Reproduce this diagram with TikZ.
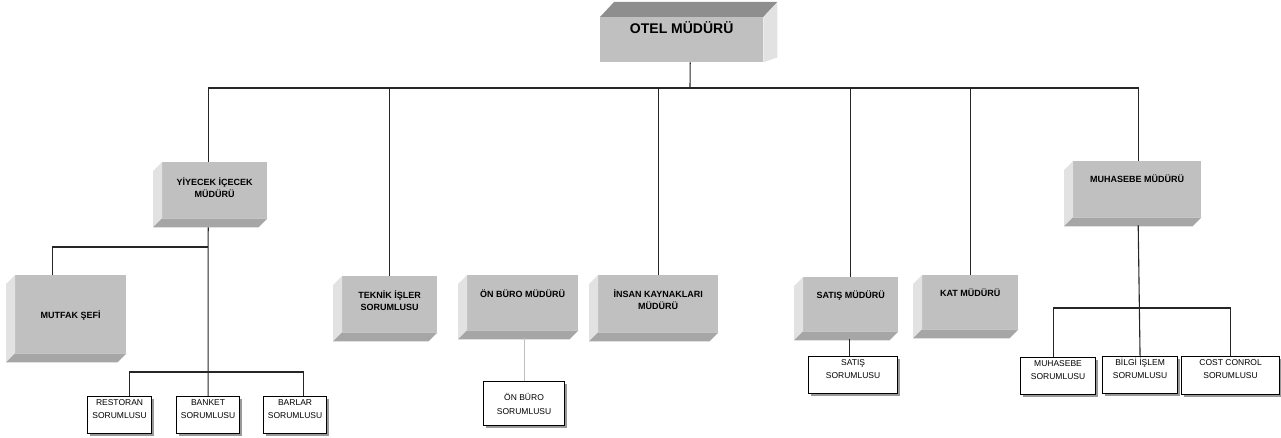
\documentclass[tikz,border=0pt]{standalone}
\usepackage{fontspec}
\setmainfont{Liberation Sans}
\usepackage{xcolor}
\usepackage{tikz}
\usetikzlibrary{calc,shadows}

\definecolor{onyuzgri}{HTML}{C0C0C0}
\definecolor{yangri}{HTML}{E2E2E2}
\definecolor{altgri}{HTML}{A6A6A6}
\definecolor{ustgri}{HTML}{8E8E8E}

% text block of a box: width, height, gap above the text, text
\newcommand{\kutuyazi}[4]{\parbox[c][#2pt][t]{#1pt}{\centering\vspace*{#3pt}#4\par}}

\begin{document}
\begin{tikzpicture}[
    x=1pt, y=-1pt,
    % front face of the grey 3d boxes
    onyuz/.style={fill=onyuzgri, inner sep=0pt, anchor=north west,
      font=\bfseries\fontsize{9}{12}\selectfont},
    % white boxes of the lowest level
    birim/.style={draw=black, line width=1.1pt, fill=white, inner sep=0pt,
      anchor=north west, font=\fontsize{8.5}{13.5}\selectfont,
      drop shadow={shadow xshift=2.5pt, shadow yshift=-2.5pt, fill=black!40, opacity=1}},
    hat/.style={draw=black!85, line width=1.1pt},
    solukhat/.style={draw=black!25, line width=0.9pt},
  ]
  \useasboundingbox (0,0) rectangle (1281,438);

  \node[onyuz, font=\bfseries\fontsize{14}{16}\selectfont] (otel) at (600,17) {\kutuyazi{163}{45}{4}{OTEL MÜDÜRÜ}};

  \node[onyuz] (yiyecek) at (162,162) {\kutuyazi{105}{56}{16}{YİYECEK İÇECEK\\MÜDÜRÜ}};
  \node[onyuz] (mutfak) at (15,275) {\kutuyazi{111}{78}{36}{MUTFAK ŞEFİ}};
  \node[onyuz] (teknik) at (342,276) {\kutuyazi{95}{56}{15}{TEKNİK İŞLER\\SORUMLUSU}};
  \node[onyuz] (onburo) at (467,275) {\kutuyazi{111}{55}{15}{ÖN BÜRO MÜDÜRÜ}};
  \node[onyuz] (insan) at (598,275) {\kutuyazi{120}{57}{15}{İNSAN KAYNAKLARI\\MÜDÜRÜ}};
  \node[onyuz] (satis) at (803,277) {\kutuyazi{95}{54}{14}{SATIŞ MÜDÜRÜ}};
  \node[onyuz] (kat) at (922,275) {\kutuyazi{96}{54}{14}{KAT MÜDÜRÜ}};
  \node[onyuz] (muhasebe) at (1073,161) {\kutuyazi{128}{56}{14}{MUHASEBE MÜDÜRÜ}};

  \node[birim] (restoran) at (87,396) {\kutuyazi{64}{37}{3}{RESTORAN\\SORUMLUSU}};
  \node[birim] (banket) at (176,396) {\kutuyazi{63}{37}{3}{BANKET\\SORUMLUSU}};
  \node[birim] (barlar) at (263,396) {\kutuyazi{63}{37}{3}{BARLAR\\SORUMLUSU}};
  \node[birim] (onburosor) at (483,381) {\kutuyazi{81}{44}{12}{ÖN BÜRO\\SORUMLUSU}};
  \node[birim] (satissor) at (808,356) {\kutuyazi{89}{37}{3}{SATIŞ\\SORUMLUSU}};
  \node[birim] (muhsor) at (1020,357) {\kutuyazi{75}{37}{3}{MUHASEBE\\SORUMLUSU}};
  \node[birim] (bilgi) at (1102,356) {\kutuyazi{75}{37}{1.5}{BİLGİ İŞLEM\\SORUMLUSU}};
  \node[birim] (cost) at (1181,356) {\kutuyazi{98}{38}{3}{COST CONROL\\SORUMLUSU}};

  % side and bottom faces
  \fill[ustgri] (otel.north west) -- (otel.north east) -- ++(14,-15) -- ($(otel.north west)+(14,-15)$) -- cycle;
  \fill[yangri] (otel.north east) -- ++(14,-15) -- ($(otel.south east)+(14,-5)$) -- (otel.south east) -- cycle;
  \foreach \n in {yiyecek,mutfak,teknik,onburo,insan,satis,kat,muhasebe}{
    \fill[yangri] (\n.north west) -- (\n.south west) -- ++(-9,9) -- ($(\n.north west)+(-9,9)$) -- cycle;
    \fill[altgri] (\n.south west) -- (\n.south east) -- ++(-9,9) -- ($(\n.south west)+(-9,9)$) -- cycle;
  }

  \coordinate (anahat) at (690,88);
  \coordinate (mutfakbag) at (208,247);
  \coordinate (altbag) at (208,372);
  \coordinate (muhbag) at (1138,308);

  \draw[hat] ([xshift=8.5pt]otel.south) -- (anahat);
  \draw[hat] ([xshift=-6.5pt]yiyecek.north) |- (anahat) -| ([xshift=1pt]muhasebe.north);
  \foreach \n in {teknik,insan,satis,kat}
    \draw[hat] (\n.north) -- (\n.north |- anahat);
  \draw[hat] ([xshift=-6.5pt,yshift=-9pt]yiyecek.south) -- (banket.north);
  \draw[hat] ([xshift=-18.5pt]mutfak.north) |- (mutfakbag);
  \draw[hat] ([xshift=10pt]restoran.north) |- (altbag) -| ([xshift=8.5pt]barlar.north);
  \draw[solukhat] (onburosor.north) -- ++(0,-43);
  \draw[hat] ([xshift=-4pt]satissor.north) -- ++(0,-17);
  \draw[hat] ([xshift=1pt,yshift=-8pt]muhasebe.south) -- (bilgi.north);
  \draw[hat] ([xshift=-4.5pt]muhsor.north) |- (muhbag) -| (cost.north);
\end{tikzpicture}
\end{document}
